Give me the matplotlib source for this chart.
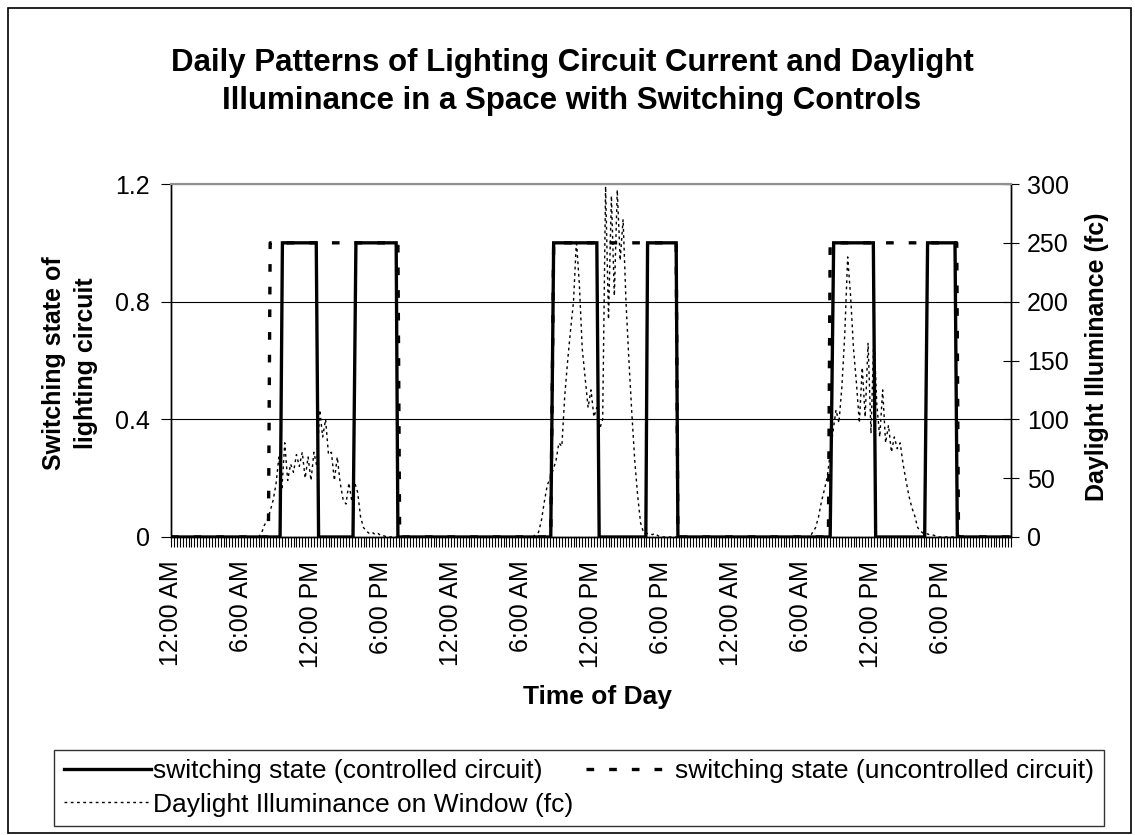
import numpy as np
import matplotlib.pyplot as plt
from matplotlib.lines import Line2D
from matplotlib.patches import Rectangle
from matplotlib.ticker import MultipleLocator, FixedLocator

plt.rcParams['font.family'] = ['Liberation Sans', 'DejaVu Sans']

# switching state, controlled circuit (hours from start, state)
ctrl_t = [0, 9.35, 9.55, 12.45, 12.65, 15.6, 15.85, 19.3, 19.45,
          32.55, 32.8, 36.5, 36.7, 40.7, 40.85, 43.3, 43.45,
          56.5, 56.8, 60.2, 60.4, 64.6, 64.85, 67.2, 67.4, 72]
ctrl_v = [0, 0, 1, 1, 0, 0, 1, 1, 0,
          0, 1, 1, 0, 0, 1, 1, 0,
          0, 1, 1, 0, 0, 1, 1, 0, 0]

# switching state, uncontrolled circuit
unctrl_t = [0, 8.35, 8.5, 19.45, 19.6, 32.55, 32.8, 43.3, 43.45,
            56.35, 56.5, 67.35, 67.5, 72]
unctrl_v = [0, 0, 1, 1, 0, 0, 1, 1, 0, 0, 1, 1, 0, 0]

# daylight on window (fc), 15 min readings, daytime only
day1_start = 7.5
day1_fc = [0, 3, 10, 14, 22, 31, 45, 68, 40, 80, 48, 62, 55, 70, 60, 72,
           50, 68, 48, 72, 60, 108, 85, 100, 70, 72, 48, 68, 46, 32, 28, 46,
           30, 46, 38, 17, 8, 5, 3, 4, 2, 3, 1, 1, 0]
day2_start = 31.0
day2_fc = [0, 2, 4, 14, 30, 44, 50, 57, 65, 80, 77, 120, 150, 176, 200, 252,
           215, 160, 135, 110, 125, 102, 110, 92, 100, 298, 185, 290, 205, 295,
           235, 270, 200, 150, 105, 65, 35, 12, 4, 3, 3, 2, 3, 1, 0]
day3_start = 54.75
day3_fc = [0, 4, 8, 17, 30, 40, 51, 71, 90, 108, 97, 127, 172, 238, 205, 160,
           131, 97, 144, 102, 165, 88, 173, 112, 85, 125, 80, 95, 72, 85, 75,
           80, 62, 48, 35, 25, 18, 8, 5, 3, 3, 2, 2, 1, 0]

tick_hours = [0, 6, 12, 18, 24, 30, 36, 42, 48, 54, 60, 66]
tick_labels = ['12:00 AM', '6:00 AM', '12:00 PM', '6:00 PM'] * 3

# full 15-min series (night readings are zero)
t_all = np.arange(0, 72.01, 0.25)
fc_all = np.zeros(len(t_all))
for start, vals in [(day1_start, day1_fc), (day2_start, day2_fc), (day3_start, day3_fc)]:
    i0 = int(round(start / 0.25))
    fc_all[i0:i0 + len(vals)] = vals

fig = plt.figure(figsize=(11.35, 8.35), dpi=100)
ax = fig.add_axes([171 / 1135, 1 - 537 / 835, 840 / 1135, 353 / 835])
ax2 = ax.twinx()

ax.set_zorder(2)
ax.patch.set_visible(False)

ax2.plot(t_all, fc_all, color='black', lw=1.0, ls=(0, (2, 2.5)))
ax.plot(unctrl_t, unctrl_v, color='black', lw=2.4, ls=(0, (2.3, 4.5)),
        dash_capstyle='butt')
ax.plot(ctrl_t, ctrl_v, color='black', lw=2.4, solid_joinstyle='miter')

ax.set_xlim(0, 72)
ax.set_ylim(0, 1.2)
ax2.set_ylim(0, 300)
ax.set_yticks([0, 0.4, 0.8, 1.2])
ax.set_yticklabels(['0', '0.4', '0.8', '1.2'])
ax2.set_yticks([0, 50, 100, 150, 200, 250, 300])

ax.xaxis.set_major_locator(FixedLocator(tick_hours))
ax.set_xticklabels(tick_labels, rotation=90)
ax.xaxis.set_minor_locator(MultipleLocator(0.25))
ax.tick_params(axis='x', which='both', direction='out', length=7, width=0.8,
               labelsize=18, pad=10)
ax.tick_params(axis='y', direction='out', length=7, width=0.8, labelsize=18, pad=8)
ax2.tick_params(axis='y', direction='inout', length=11, width=0.8, labelsize=18, pad=6)

ax.grid(axis='y', color='black', lw=0.8)
for a in (ax, ax2):
    a.spines['top'].set_color('#909090')
    a.spines['top'].set_linewidth(1.5)
    a.spines['bottom'].set_linewidth(1.0)
    a.spines['left'].set_linewidth(1.0)
    a.spines['right'].set_linewidth(1.0)

fig.text(572 / 1135, 1 - 82 / 835,
         'Daily Patterns of Lighting Circuit Current and Daylight\n'
         'Illuminance in a Space with Switching Controls',
         ha='center', va='center', fontsize=22.5, fontweight='bold', linespacing=1.35)
fig.text(70 / 1135, 1 - 363 / 835, 'Switching state of\nlighting circuit',
         ha='center', va='center', rotation=90, fontsize=18, fontweight='bold',
         linespacing=1.4)
fig.text(1097 / 1135, 1 - 357 / 835, 'Daylight Illuminance (fc)',
         ha='center', va='center', rotation=90, fontsize=18, fontweight='bold')
fig.text(597 / 1135, 1 - 697 / 835, 'Time of Day', ha='center', va='center',
         fontsize=19, fontweight='bold')

handles = [
    Line2D([], [], color='black', lw=2.4),
    Line2D([], [], color='black', lw=1.0, ls=(0, (2, 2.5))),
    Line2D([], [], color='black', lw=2.4, ls=(0, (2.3, 4.5)), dash_capstyle='butt'),
]
labels = ['switching state (controlled circuit)',
          'Daylight Illuminance on Window (fc)',
          'switching state (uncontrolled circuit)']
leg = fig.legend(handles, labels, loc='center', ncol=2,
                 bbox_to_anchor=(579 / 1135, 1 - 788 / 835), fontsize=19,
                 frameon=True, fancybox=False, edgecolor='black',
                 handlelength=3.3, handletextpad=0.08, columnspacing=0.5,
                 labelspacing=0.35, borderpad=0.35, borderaxespad=0)
leg.get_frame().set_linewidth(1.0)

fig.patches.append(Rectangle((8 / 1135, 2 / 835), 1123 / 1135, 825 / 835,
                             transform=fig.transFigure, fill=False,
                             edgecolor='black', lw=1.2))

fig.savefig('out.png', dpi=100)
